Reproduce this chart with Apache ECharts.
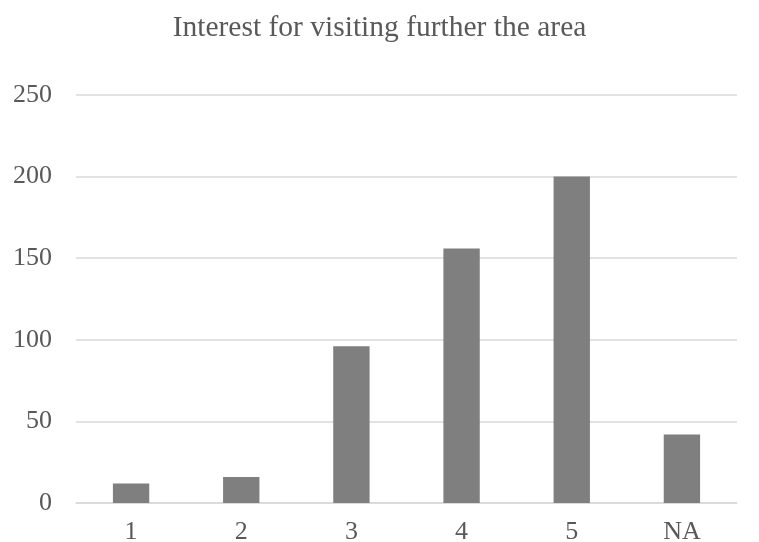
<!DOCTYPE html>
<html lang="en">
<head>
    <meta charset="utf-8">
    <title>Interest for visiting further the area</title>
    <script src="https://cdn.jsdelivr.net/npm/echarts@6/dist/echarts.min.js"></script>
    <style>
        html, body {
            margin: 0;
            padding: 0;
            background: #fff;
        }
        #chart {
            width: 759px;
            height: 542px;
        }
    </style>
</head>
<body>
<div id="chart"></div>
<script>
    // data
    var categories = ['1', '2', '3', '4', '5', 'NA'];
    var counts = [12, 16, 96, 156, 200, 42];
    var yTicks = [0, 50, 100, 150, 200, 250];

    var font = '"Liberation Serif", "Times New Roman", serif';
    var textColor = '#595959';

    var myChart = echarts.init(document.getElementById('chart'));

    var option = {
        animation: false,
        title: {
            text: 'Interest for visiting further the area',
            left: 'center',
            top: 8,
            textStyle: {
                fontFamily: font,
                fontSize: 29.5,
                fontWeight: 'normal',
                color: textColor
            }
        },
        grid: {
            left: 76,
            right: 22,
            top: 95,
            bottom: 39,
            // labels hang off the bottom edge in the reference, keep the grid fixed
            outerBoundsMode: 'none'
        },
        xAxis: {
            type: 'category',
            data: categories,
            axisLine: { lineStyle: { color: '#d9d9d9', width: 1.5 } },
            axisTick: { show: false },
            axisLabel: {
                fontFamily: font,
                fontSize: 26,
                color: textColor,
                margin: 16
            }
        },
        yAxis: {
            type: 'value',
            min: yTicks[0],
            max: yTicks[yTicks.length - 1],
            interval: yTicks[1] - yTicks[0],
            axisLine: { show: false },
            axisTick: { show: false },
            splitLine: { lineStyle: { color: '#d9d9d9', width: 1.5 } },
            axisLabel: {
                fontFamily: font,
                fontSize: 26,
                color: textColor,
                margin: 24
            }
        },
        series: [
            {
                type: 'bar',
                data: counts,
                barWidth: '33%',
                itemStyle: { color: '#7f7f7f' }
            }
        ]
    };

    myChart.setOption(option);
</script>
</body>
</html>
